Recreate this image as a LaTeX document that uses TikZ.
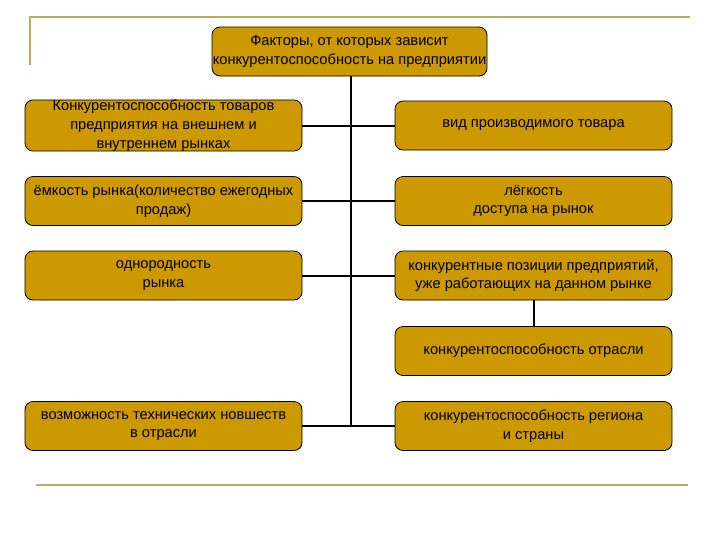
\documentclass[tikz,border=0pt]{standalone}
\usepackage{fontspec}
\setmainfont{Liberation Sans}
\definecolor{boxfill}{RGB}{204,153,0}
\definecolor{deco}{RGB}{190,170,95}
\begin{document}
\begin{tikzpicture}[x=0.75pt,y=-0.75pt,
  box/.style={draw=black, line width=0.6pt, fill=boxfill, rounded corners=6pt,
    minimum width=277*0.75pt, minimum height=49*0.75pt, align=center,
    inner sep=0pt, font=\fontsize{11pt}{14pt}\selectfont},
  conn/.style={line width=1.5pt, black},
  decoline/.style={line width=2pt, deco}]
\useasboundingbox (0,0) rectangle (720,540);
\draw[decoline] (30,65) -- (30,17) -- (690,17);
\draw[decoline] (36,485) -- (688,485);

\node[box, minimum width=275*0.75pt] (top) at (349.5,51.5) {Факторы, от которых зависит\\конкурентоспособность на предприятии};

\node[box] (L1) at (163.5,125.5) {Конкурентоспособность товаров\\предприятия на внешнем и\\внутреннем рынках};
\node[box] (L2) at (163.5,201) {ёмкость рынка(количество ежегодных\\продаж)};
\node[box] (L3) at (163.5,275.5) {однородность\\рынка};
\node[box] (L4) at (163.5,426) {возможность технических новшеств\\в отрасли};

\node[box] (R1) at (533.5,125.5) {вид производимого товара};
\node[box] (R2) at (533.5,201) {лёгкость\\доступа на рынок};
\node[box] (R3) at (533.5,275.5) {конкурентные позиции предприятий,\\уже работающих на данном рынке};
\node[box] (R4) at (533.5,351) {конкурентоспособность отрасли};
\node[box] (R5) at (533.5,426) {конкурентоспособность региона\\и страны};

\coordinate (trunkend) at (351,426);
\draw[conn] (top.south -| trunkend) -- (trunkend);
\draw[conn] (L1.east) -- (R1.west);
\draw[conn] (L2.east) -- (R2.west);
\draw[conn] (L3.east) -- (R3.west);
\draw[conn] (L4.east) -- (R5.west);
\draw[conn] (R3.south) -- (R4.north);
\end{tikzpicture}
\end{document}
